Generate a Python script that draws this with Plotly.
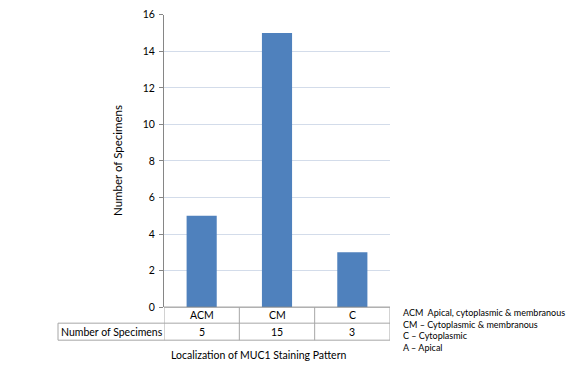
import plotly.graph_objects as go

categories = ["ACM", "CM", "C"]
counts = [5, 15, 3]
row_label = "Number of Specimens"
y_ticks = [0, 2, 4, 6, 8, 10, 12, 14, 16]
legend_lines = [
    "ACM  Apical, cytoplasmic &amp; membranous",
    "CM – Cytoplasmic &amp; membranous",
    "C – Cytoplasmic",
    "A – Apical",
]

W, H = 575, 365
FONT = "Lato, Carlito, Liberation Sans, sans-serif"
CY, KY = 182.5, 0.966  # vertical calibration of the photographed page

def px(x):
    return x / W

def py(y):
    fy = CY + (y - CY) / KY
    return (H - fy) / H

x0, x1 = 164, 390
y_top, y_zero = 15, 307
row1, row2 = 323, 340
grid_col = "#d3dcea"
line_col = "#a6a6a6"

fig = go.Figure()
fig.add_trace(go.Bar(
    x=categories, y=counts, marker=dict(color="#4f81bd", line=dict(width=0)),
    width=0.4, hoverinfo="skip",
))

fig.update_layout(
    width=W, height=H, margin=dict(l=0, r=0, t=0, b=0),
    paper_bgcolor="white", plot_bgcolor="white", showlegend=False,
    font=dict(family=FONT, size=10, color="#000000"),
    xaxis=dict(domain=[px(x0), px(x1)], range=[-0.5, 2.5], showticklabels=False,
               showgrid=False, zeroline=False, showline=False, ticks=""),
    yaxis=dict(domain=[py(y_zero), py(y_top)], range=[0, 16], tickvals=y_ticks,
               showgrid=True, gridcolor=grid_col, gridwidth=1, zeroline=False,
               showline=True, linecolor="#868686", linewidth=1,
               ticks="outside", ticklen=4, tickcolor="#868686",
               tickfont=dict(size=10.5, family=FONT), ticklabelstandoff=2),
)

shapes = []
shapes.append(dict(type="line", xref="paper", yref="paper", x0=px(x0), x1=px(x1),
                   y0=py(y_zero), y1=py(y_zero), line=dict(color="#868686", width=1)))
for yy in (row1, row2):
    shapes.append(dict(type="line", xref="paper", yref="paper", x0=px(58), x1=px(x1),
                       y0=py(yy), y1=py(yy), line=dict(color=line_col, width=1)))
for i in range(len(categories) + 1):
    shapes.append(dict(type="line", xref="x", yref="paper", x0=i - 0.5, x1=i - 0.5,
                       y0=py(y_zero), y1=py(row2), line=dict(color=line_col, width=1)))
shapes.append(dict(type="line", xref="paper", yref="paper", x0=px(58), x1=px(58),
                   y0=py(row1), y1=py(row2), line=dict(color=line_col, width=1)))

annotations = []
for c, v in zip(categories, counts):
    annotations.append(dict(x=c, xref="x", y=py((y_zero + row1) / 2), yref="paper",
                            text=c, showarrow=False, font=dict(size=10.5), yanchor="middle"))
    annotations.append(dict(x=c, xref="x", y=py((row1 + row2) / 2), yref="paper",
                            text=str(v), showarrow=False, font=dict(size=10.5), yanchor="middle"))
annotations.append(dict(x=px(59), xref="paper", y=py((row1 + row2) / 2), yref="paper",
                        text=row_label, showarrow=False, xanchor="left", yanchor="middle",
                        font=dict(size=10.5)))
annotations.append(dict(x=px(258), xref="paper", y=py(355), yref="paper",
                        text="Localization of MUC1 Staining Pattern", showarrow=False,
                        yanchor="middle", font=dict(size=10.5)))
annotations.append(dict(x=px(118), xref="paper", y=py(161), yref="paper",
                        text="Number of Specimens", showarrow=False, textangle=-90,
                        xanchor="center", yanchor="middle", font=dict(size=11.5)))
annotations.append(dict(x=px(401), xref="paper", y=py(305), yref="paper",
                        text="<br>".join(legend_lines), showarrow=False, align="left",
                        xanchor="left", yanchor="top", font=dict(size=9)))

fig.update_layout(shapes=shapes, annotations=annotations)
fig.write_html("out.html", config={"displayModeBar": False},
               post_script="document.body.style.margin='0';")
